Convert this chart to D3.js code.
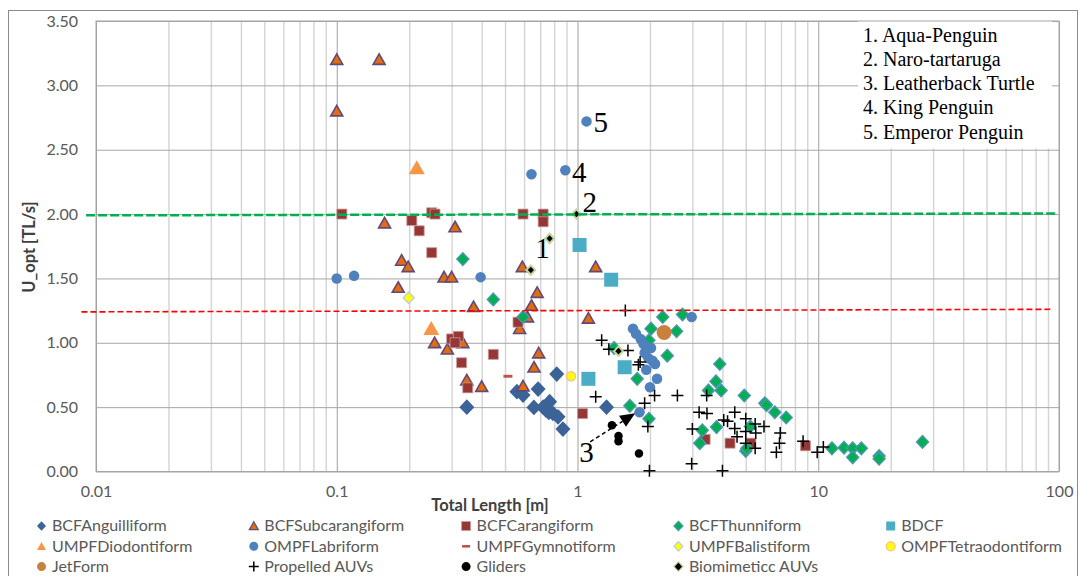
<!DOCTYPE html>
<html>
<head>
<meta charset="utf-8">
<script src="https://cdn.jsdelivr.net/npm/d3@7/dist/d3.min.js"></script>
<style>
  html, body { margin: 0; padding: 0; background: #fff; }
  svg { display: block; }
</style>
</head>
<body>
<svg id="chart" width="1085" height="576"></svg>
<script>
// ---------------- DATA (Total Length [m], U_opt [TL/s]) ----------------
const bcfAnguilliform = [[0.347,0.50],[0.56,0.62],[0.594,0.594],[0.686,0.64],[0.82,0.757],[0.659,0.498],
  [0.766,0.542],[0.74,0.477],[0.79,0.452],[0.83,0.425],[0.87,0.33],[1.32,0.50],[0.72,0.50],[0.76,0.46]];
const bcfSubcarangiform = [[0.1,3.2],[0.1,2.8],[0.15,3.2],[0.158,1.93],[0.31,1.90],[0.186,1.64],[0.198,1.59],
  [0.279,1.51],[0.30,1.51],[0.18,1.43],[0.37,1.28],[0.59,1.59],[0.68,1.39],[0.644,1.29],[0.62,1.20],[0.575,1.11],
  [0.255,1.00],[0.288,0.95],[0.334,1.00],[0.69,0.92],[0.66,0.81],[0.347,0.71],[0.40,0.66],[0.594,0.664],
  [1.19,1.59],[1.11,1.19]];
const bcfCarangiform = [[0.105,2.00],[0.205,1.95],[0.22,1.87],[0.248,2.01],[0.256,2.00],[0.248,1.70],[0.594,2.00],
  [0.72,2.00],[0.72,1.94],[0.566,1.16],[0.30,1.03],[0.32,1.05],[0.31,1.00],[0.33,0.845],[0.447,0.91],[0.35,0.65],
  [1.05,0.45],[3.39,0.25],[4.3,0.22],[5.25,0.22],[8.85,0.20]];
const bcfThunniform = [[0.334,1.65],[0.447,1.337],[0.594,1.20],[2.02,1.11],[2.26,1.20],[2.73,1.22],[2.58,1.09],
  [2.36,0.90],[1.77,0.72],[1.65,0.51],[1.98,0.41],[1.98,1.02],[1.42,0.96],[3.9,0.835],[3.76,0.70],[3.95,0.63],
  [3.5,0.63],[4.93,0.59],[6.0,0.53],[6.1,0.516],[6.6,0.46],[7.36,0.42],[3.3,0.32],[3.78,0.345],[3.22,0.22],
  [5.22,0.35],[5.0,0.16],[5.05,0.18],[11.4,0.18],[12.8,0.185],[13.9,0.18],[13.9,0.11],[15.1,0.18],[17.9,0.12],
  [17.9,0.10],[27.1,0.23]];
const bdcf = [[1.02,1.76],[1.38,1.49],[1.11,0.72],[1.57,0.81]];
const umpfDiodontiform = [[0.215,2.36],[0.247,1.11]];
const ompfLabriform = [[0.1,1.50],[0.118,1.52],[0.396,1.51],[0.644,2.31],[0.89,2.34],[1.09,2.72],[2.98,1.20],
  [1.70,1.11],[1.75,1.07],[1.83,1.03],[1.88,0.99],[1.95,0.97],[2.02,0.96],[1.90,0.92],[1.97,0.88],[2.05,0.86],
  [2.10,0.835],[1.93,0.79],[2.14,0.72],[2.00,0.655],[1.81,0.46]];
const umpfGymnotiform = [[0.514,0.74]];
const umpfBalistiform = [[0.199,1.35]];
const ompfTetraodontiform = [[0.94,0.74]];
const jetForm = [[2.29,1.08]];
const propelledAUVs = [[1.58,1.25],[1.26,1.02],[1.35,0.95],[1.62,0.94],[1.82,0.85],[1.79,0.83],[1.19,0.58],
  [2.09,0.59],[2.6,0.59],[1.9,0.53],[1.96,0.35],[1.99,0.005],[3.44,0.59],[3.2,0.46],[3.45,0.45],[4.05,0.40],
  [4.2,0.39],[3.0,0.33],[2.98,0.06],[4.0,0.005],[4.5,0.46],[5.0,0.41],[4.5,0.335],[5.0,0.31],[4.6,0.27],
  [5.47,0.37],[5.5,0.30],[5.95,0.35],[5.0,0.22],[5.47,0.18],[6.95,0.30],[6.9,0.22],[6.7,0.15],[8.65,0.235],
  [9.9,0.15],[10.5,0.19]];
const gliders = [[1.39,0.36],[1.48,0.275],[1.48,0.235],[1.80,0.14]];
const biomimeticAUVs = [[0.766,1.81],[0.64,1.565],[0.99,2.0],[1.48,0.935]];

const greenLine = [[0.0091,1.99],[99,2.005]];
const redLine = [[0.0087,1.24],[92,1.26]];

const xTickValues = [0.01, 0.1, 1, 10, 100];
const xTickLabels = ["0.01", "0.1", "1", "10", "100"];
const yTickValues = [0, 0.5, 1, 1.5, 2, 2.5, 3, 3.5];
const yTickLabels = ["0.00","0.50","1.00","1.50","2.00","2.50","3.00","3.50"];

const noteLines = ["1. Aqua-Penguin", "2. Naro-tartaruga", "3. Leatherback Turtle", "4. King Penguin", "5. Emperor Penguin"];
const pointLabels = [["5",1.165,2.634],["4",0.948,2.25],["2",1.049,2.017],["1",0.667,1.655],["3",1.016,0.071]];
const arrowLine = [[1.129,0.231],[1.736,0.452]];

// ---------------- STYLE / LAYOUT ----------------
const series = [
  {name:"BCFAnguilliform", data:bcfAnguilliform, shape:"diamond", size:15, fill:"#3b6398", stroke:"#3b6398", sw:0},
  {name:"BCFSubcarangiform", data:bcfSubcarangiform, shape:"triangle", size:12, fill:"#e46c0a", stroke:"#604a7b", sw:1.6},
  {name:"BCFCarangiform", data:bcfCarangiform, shape:"square", size:10, fill:"#953735", stroke:"#c99a99", sw:0.8},
  {name:"BCFThunniform", data:bcfThunniform, shape:"diamond", size:12, fill:"#00b050", stroke:"#4b96b0", sw:1.4},
  {name:"BDCF", data:bdcf, shape:"square", size:14, fill:"#4bacc6", stroke:"#4bacc6", sw:0},
  {name:"UMPFDiodontiform", data:umpfDiodontiform, shape:"triangle", size:16, fill:"#f79646", stroke:"#f79646", sw:0},
  {name:"OMPFLabriform", data:ompfLabriform, shape:"circle", size:10.5, fill:"#4f81bd", stroke:"#4f81bd", sw:0},
  {name:"UMPFGymnotiform", data:umpfGymnotiform, shape:"dash", size:9, fill:"#c0504d", stroke:"#c0504d", sw:0},
  {name:"UMPFBalistiform", data:umpfBalistiform, shape:"diamond", size:11, fill:"#ffff00", stroke:"#b9cde5", sw:1.4},
  {name:"OMPFTetraodontiform", data:ompfTetraodontiform, shape:"circle", size:9, fill:"#ffff00", stroke:"#fac090", sw:1.4},
  {name:"JetForm", data:jetForm, shape:"circle", size:15, fill:"#c9803f", stroke:"#c9803f", sw:0},
  {name:"Propelled AUVs", data:propelledAUVs, shape:"plus", size:12, fill:"none", stroke:"#000", sw:1.5},
  {name:"Gliders", data:gliders, shape:"circle", size:8.5, fill:"#000", stroke:"#000", sw:0},
  {name:"Biomimeticc AUVs", data:biomimeticAUVs, shape:"diamond", size:9, fill:"#000", stroke:"#c3d69b", sw:2}
];

const W = 1085, H = 576;
const P = {left: 96, right: 1059, top: 21, bottom: 471.5};
const svg = d3.select("#chart");
const SANS = "Lato, 'Liberation Sans', sans-serif";

const x = d3.scaleLog().domain([0.01, 100]).range([P.left, P.right]);
const y = d3.scaleLinear().domain([0, 3.5]).range([P.bottom, P.top]);

function shapePath(type, s) {
  const h = s / 2;
  switch (type) {
    case "diamond": return `M0,${-h*1.05}L${h},0L0,${h*1.05}L${-h},0Z`;
    case "square": return `M${-h},${-h}H${h}V${h}H${-h}Z`;
    case "triangle": return `M0,${-h*0.95}L${h},${h*0.8}L${-h},${h*0.8}Z`;
    case "circle": { const p = d3.path(); p.arc(0, 0, h, 0, 2*Math.PI); p.closePath(); return p.toString(); }
    case "dash": return `M${-h},${-h*0.32}H${h}V${h*0.32}H${-h}Z`;
    case "plus": return `M${-h},0H${h}M0,${-h}V${h}`;
  }
}

// chart frame
svg.append("rect").attr("x", 8.5).attr("y", 10.5).attr("width", 1069).attr("height", 575)
  .attr("fill", "#fff").attr("stroke", "#8c8c8c").attr("stroke-width", 1);

// grid - minor vertical
const minorTicks = [];
[0.01, 0.1, 1, 10].forEach(d => { for (let k = 2; k <= 9; k++) minorTicks.push(d * k); });
const gMinor = svg.append("g").attr("transform", `translate(0,${P.bottom})`)
  .call(d3.axisBottom(x).tickValues(minorTicks).tickSize(-(P.bottom - P.top)).tickFormat(""));
gMinor.select(".domain").remove();
gMinor.selectAll("line").attr("stroke", "#d4d4d4").attr("stroke-width", 1.4);

// grid - major vertical
const gMajorX = svg.append("g").attr("transform", `translate(0,${P.bottom})`)
  .call(d3.axisBottom(x).tickValues(xTickValues).tickSize(-(P.bottom - P.top)).tickFormat(""));
gMajorX.select(".domain").remove();
gMajorX.selectAll("line").attr("stroke", "#a0a0a0").attr("stroke-width", 1);

// grid - horizontal
const gMajorY = svg.append("g").attr("transform", `translate(${P.left},0)`)
  .call(d3.axisLeft(y).tickValues(yTickValues).tickSize(-(P.right - P.left)).tickFormat(""));
gMajorY.select(".domain").remove();
gMajorY.selectAll("line").attr("stroke", "#a6a6a6").attr("stroke-width", 1);

// plot border
svg.append("rect").attr("x", P.left).attr("y", P.top).attr("width", P.right - P.left)
  .attr("height", P.bottom - P.top).attr("fill", "none").attr("stroke", "#a6a6a6").attr("stroke-width", 1);

// note box (covers gridlines)
svg.append("rect").attr("x", 858).attr("y", P.top + 0.5).attr("width", 194).attr("height", 127).attr("fill", "#fff");
svg.append("g").selectAll("text").data(noteLines).join("text")
  .attr("x", 863).attr("y", (d, i) => 41.7 + i * 24.2)
  .attr("font-family", "'Liberation Serif', 'Times New Roman', serif").attr("font-size", 20)
  .attr("fill", "#000").text(d => d);

// axis tick labels
const xAxis = svg.append("g").attr("transform", `translate(0,${P.bottom})`)
  .call(d3.axisBottom(x).tickValues(xTickValues).tickSize(0).tickPadding(14)
    .tickFormat((d, i) => xTickLabels[i]));
xAxis.select(".domain").remove();
xAxis.selectAll("text").attr("font-family", SANS).attr("font-size", 16).attr("fill", "#595959");

const yAxis = svg.append("g").attr("transform", `translate(${P.left},0)`)
  .call(d3.axisLeft(y).tickValues(yTickValues).tickSize(0).tickPadding(18)
    .tickFormat((d, i) => yTickLabels[i]));
yAxis.select(".domain").remove();
yAxis.selectAll("text").attr("font-family", SANS).attr("font-size", 16).attr("fill", "#595959");

// axis titles
svg.append("text").attr("x", 490).attr("y", 511).attr("text-anchor", "middle")
  .attr("font-family", SANS).attr("font-weight", "bold").attr("font-size", 16.5).attr("fill", "#404040")
  .text("Total Length [m]");
svg.append("text").attr("transform", "translate(35,247) rotate(-90)").attr("text-anchor", "middle")
  .attr("font-family", SANS).attr("font-weight", "bold").attr("font-size", 16.5).attr("fill", "#404040")
  .text("U_opt [TL/s]");

// markers
const line = d3.line().x(d => x(d[0])).y(d => y(d[1]));
series.forEach(s => {
  const g = svg.append("g");
  g.selectAll("path").data(s.data).join("path")
    .attr("transform", d => `translate(${x(d[0])},${y(d[1])})`)
    .attr("d", shapePath(s.shape, s.size))
    .attr("fill", s.fill).attr("stroke", s.sw > 0 ? s.stroke : "none").attr("stroke-width", s.sw);
});

// reference lines
svg.append("path").datum(greenLine).attr("d", line).attr("fill", "none")
  .attr("stroke", "#00b050").attr("stroke-width", 2.5).attr("stroke-dasharray", "9,3");
svg.append("path").datum(redLine).attr("d", line).attr("fill", "none")
  .attr("stroke", "#ff0000").attr("stroke-width", 1.6).attr("stroke-dasharray", "6,3");

// point labels
svg.append("g").selectAll("text").data(pointLabels).join("text")
  .attr("x", d => x(d[1])).attr("y", d => y(d[2]))
  .attr("font-family", "'Liberation Serif', 'Times New Roman', serif").attr("font-size", 29)
  .attr("fill", "#000").text(d => d[0]);

// arrow for label 3
const a0 = [x(arrowLine[0][0]), y(arrowLine[0][1])];
const a1 = [x(arrowLine[1][0]), y(arrowLine[1][1])];
const ang = Math.atan2(a1[1] - a0[1], a1[0] - a0[0]);
const headLen = 15, headW = 6.5;
const base = [a1[0] - headLen * Math.cos(ang), a1[1] - headLen * Math.sin(ang)];
svg.append("line").attr("x1", a0[0]).attr("y1", a0[1]).attr("x2", base[0]).attr("y2", base[1])
  .attr("stroke", "#000").attr("stroke-width", 1.5).attr("stroke-dasharray", "4,3");
svg.append("path")
  .attr("d", `M${a1[0]},${a1[1]}L${base[0] + headW*Math.sin(ang)},${base[1] - headW*Math.cos(ang)}L${base[0] - headW*Math.sin(ang)},${base[1] + headW*Math.cos(ang)}Z`)
  .attr("fill", "#000");

// legend
const legend = svg.append("g");
const legItems = legend.selectAll("g").data(series).join("g")
  .attr("transform", (d, i) => `translate(${41.5 + (i % 5) * 212.3},${526 + Math.floor(i / 5) * 20.3})`);
legItems.append("path")
  .attr("d", d => shapePath(d.shape, d.shape === "plus" ? 10 : d.shape === "dash" ? 8 : 9))
  .attr("fill", d => d.fill).attr("stroke", d => d.sw > 0 ? d.stroke : "none")
  .attr("stroke-width", d => d.shape === "plus" ? 1.5 : Math.min(d.sw, 1.2));
legItems.append("text").attr("x", 10.5).attr("y", 5.3)
  .attr("font-family", SANS).attr("font-size", 16).attr("fill", "#595959").text(d => d.name);
</script>
</body>
</html>
